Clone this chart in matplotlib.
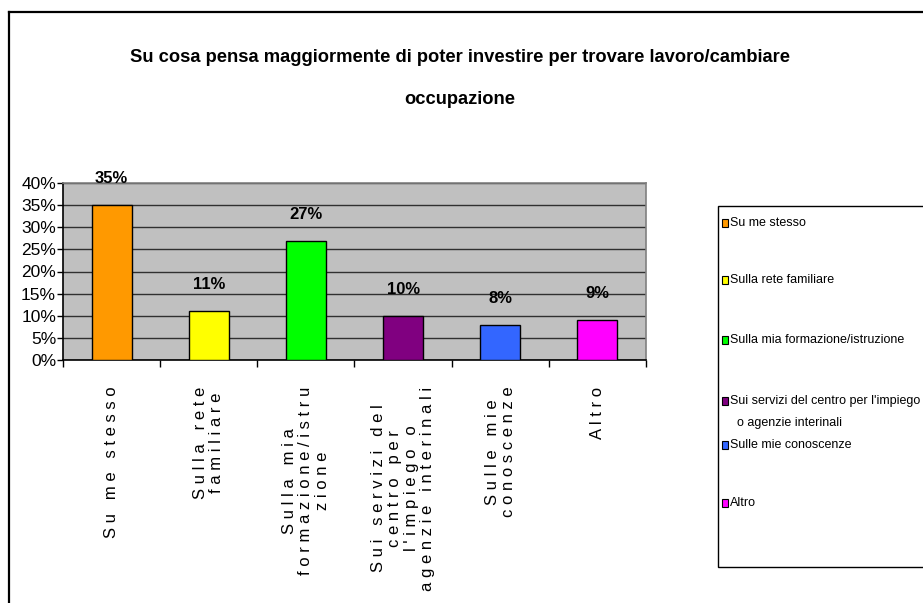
import matplotlib
matplotlib.use("Agg")
import matplotlib.pyplot as plt
from matplotlib.patches import Rectangle
from matplotlib.lines import Line2D
from matplotlib.ticker import FuncFormatter
import numpy as np

# ---------------- data ----------------
title_lines = ["Su cosa pensa maggiormente di poter investire per trovare lavoro/cambiare",
               "occupazione"]
categories = ["Su me stesso", "Sulla rete familiare", "Sulla mia formazione/istruzione",
              "Sui servizi del centro per l'impiego o agenzie interinali",
              "Sulle mie conoscenze", "Altro"]
axis_labels = ["Su me stesso", "Sulla rete\nfamiliare", "Sulla mia\nformazione/istru\nzione",
               "Sui servizi del\ncentro per\nl'impiego o\nagenzie interinali",
               "Sulle mie\nconoscenze", "Altro"]
legend_labels = ["Su me stesso", "Sulla rete familiare", "Sulla mia formazione/istruzione",
                 "Sui servizi del centro per l'impiego\no agenzie interinali",
                 "Sulle mie conoscenze", "Altro"]
values = [0.35, 0.11, 0.27, 0.10, 0.08, 0.09]
value_labels = ["35%", "11%", "27%", "10%", "8%", "9%"]
colors = ["#FF9900", "#FFFF00", "#00FF00", "#800080", "#3366FF", "#FF00FF"]
yticks = [0.0, 0.05, 0.10, 0.15, 0.20, 0.25, 0.30, 0.35, 0.40]

# ---------------- style ----------------
plt.rcParams["font.family"] = ["Liberation Sans", "DejaVu Sans"]

W, H = 923, 603
fig = plt.figure(figsize=(W / 100, H / 100), dpi=100)

def fx(px):
    return px / W

def fy(py):
    return 1 - py / H

# figure border (left and top visible)
fig.add_artist(Line2D([fx(9), fx(9)], [fy(12), fy(610)], color="black", lw=1.6,
                      transform=fig.transFigure))
fig.add_artist(Line2D([fx(9), fx(930)], [fy(12), fy(12)], color="black", lw=1.6,
                      transform=fig.transFigure))

# title
fig.text(fx(460), fy(57), title_lines[0], ha="center", va="center",
         fontsize=13.2, fontweight="bold")
fig.text(fx(460), fy(100), title_lines[1], ha="center", va="center",
         fontsize=13.2, fontweight="bold")

# axes
left, right, top, bottom = 63, 646, 183, 360
ax = fig.add_axes([fx(left), fy(bottom), fx(right - left), (bottom - top) / H])
ax.set_facecolor("#C0C0C0")

x = np.arange(len(values))
ax.bar(x, values, width=0.41, color=colors, edgecolor="black", linewidth=1.0, zorder=3)
ax.set_xlim(-0.5, len(values) - 0.5)
ax.set_ylim(0, 0.40)

ax.set_yticks(yticks)
ax.yaxis.set_major_formatter(FuncFormatter(lambda v, p: f"{v * 100:.0f}%"))
ax.tick_params(axis="y", direction="out", length=4, width=1, labelsize=12.5, pad=1)
ax.grid(axis="y", color="#303030", linewidth=1.0, zorder=1)
ax.set_axisbelow(True)

spaced = ["\n".join(" ".join(list(line)) for line in s.split("\n")) for s in axis_labels]
ax.set_xticks(x)
ax.set_xticklabels(spaced, rotation=90, ha="center", va="top", multialignment="center",
                   fontsize=12, linespacing=1.1)
ax.tick_params(axis="x", which="major", length=0, pad=19)
for t in ax.get_xticklabels():
    t.set_x(t.get_position()[0])
ax.set_xticks(np.arange(-0.5, len(values), 1.0), minor=True)
ax.tick_params(axis="x", which="minor", direction="out", length=5, width=1, color="black")

for s in ["left", "bottom"]:
    ax.spines[s].set_color("black")
    ax.spines[s].set_linewidth(1.2)
for s in ["top", "right"]:
    ax.spines[s].set_color("#808080")
    ax.spines[s].set_linewidth(1.2)

for xi, v, lab in zip(x, values, value_labels):
    ax.annotate(lab, (xi, v), xytext=(0, 19), textcoords="offset points",
                ha="center", va="center", fontsize=12, fontweight="bold")

# legend (manual, Excel-like)
fig.add_artist(Rectangle((fx(718), fy(567)), fx(930) - fx(718), fy(206) - fy(567),
                         transform=fig.transFigure, facecolor="white", edgecolor="black",
                         lw=1.0))
legend_y = [223, 280, 340, 401, 445, 503]
for lab, col, yy in zip(legend_labels, colors, legend_y):
    fig.add_artist(Rectangle((fx(722), fy(yy + 4)), fx(6), 8 / H, transform=fig.transFigure,
                             facecolor=col, edgecolor="black", lw=0.8))
    parts = lab.split("\n")
    fig.text(fx(730), fy(yy), parts[0], ha="left", va="center", fontsize=9)
    if len(parts) > 1:
        fig.text(fx(737), fy(yy + 22), parts[1], ha="left", va="center", fontsize=9)

fig.savefig("out.png", dpi=100)
